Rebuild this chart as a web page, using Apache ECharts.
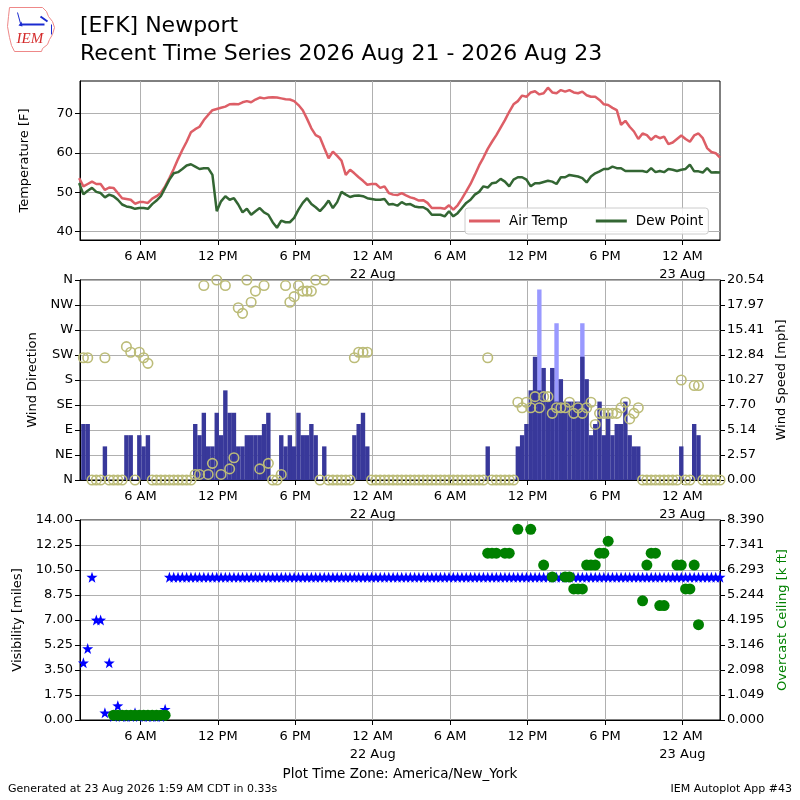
<!DOCTYPE html>
<html>
<head>
<meta charset="utf-8">
<script src="https://cdn.jsdelivr.net/npm/echarts@6/dist/echarts.min.js"></script>
<style>html,body{margin:0;padding:0;background:#fff}#c{width:800px;height:800px}</style>
</head>
<body>
<div id="c"></div>
<script>
// ---- time base: hours since 2026-08-21 00:00 America/New_York, obs every 20 min ----
const FIRST_OB_HOUR = 1.25;     // 1:15 AM Aug 21
const OB_STEP_HOURS = 1 / 3;    // 20 minutes
const X_MIN = 1.32;
const X_MAX = 50.9167;          // 2:55 AM Aug 23
const X_TICKS = [6, 12, 18, 24, 30, 36, 42, 48];

const airTemp = [53.6,51.5,52.1,52.7,52.1,52.1,50.6,51.2,51.1,49.8,48.5,48.3,48.1,47.1,47.5,47.5,47.3,48.4,49.0,49.8,
51.5,53.6,55.9,58.4,60.7,62.8,65.2,66.0,66.6,68.3,69.6,70.8,71.1,71.4,71.7,72.3,72.4,72.3,72.8,73.1,
72.8,73.5,74.0,73.8,74.0,74.1,74.0,73.8,73.6,73.5,73.1,72.1,70.8,68.6,66.2,64.5,63.9,61.2,58.6,60.3,
59.2,58.0,54.4,55.7,54.8,53.8,52.9,51.9,52.1,52.1,51.1,51.5,49.8,49.4,49.3,49.8,49.2,48.7,48.4,47.9,
48.0,47.3,46.0,46.0,46.0,45.8,46.7,45.6,46.7,48.4,50.2,52.1,54.4,56.8,58.8,61.0,62.8,64.5,66.4,68.3,
70.4,72.3,73.1,74.5,74.2,75.3,75.6,74.8,75.1,76.5,75.3,75.1,75.9,75.5,75.9,75.3,75.1,75.5,74.6,74.2,
74.2,73.4,72.3,72.1,71.4,70.8,67.1,68.1,66.6,65.4,63.5,64.9,64.5,63.3,64.3,63.7,64.1,62.2,62.6,63.5,
64.4,63.5,62.8,64.4,64.9,63.7,61.2,60.2,59.9,58.8];

const dewPoint = [52.3,49.5,50.4,51.1,50.1,49.8,48.7,49.4,49.0,48.1,46.9,46.4,46.2,45.8,46.0,46.0,45.8,47.0,47.9,49.0,
51.1,53.2,54.8,55.1,55.9,56.8,57.1,56.5,55.9,56.1,56.1,54.4,45.2,47.7,49.0,48.1,48.5,46.9,44.9,45.8,
44.3,45.2,46.0,44.9,44.3,42.4,41.0,42.8,42.4,42.4,43.5,45.6,47.3,48.5,47.0,46.2,45.2,46.4,47.9,46.0,
47.5,50.1,49.4,48.8,49.1,49.2,49.0,48.5,48.3,48.1,48.1,48.3,46.9,47.0,46.6,47.5,46.9,47.0,46.4,46.2,
46.2,45.6,44.3,44.3,44.3,43.9,45.2,43.9,44.7,46.0,47.3,48.1,49.4,50.1,51.5,51.2,52.3,52.5,53.4,52.7,
51.5,53.2,53.8,53.8,53.2,51.5,52.3,52.3,52.6,52.9,52.7,52.1,53.8,53.8,54.4,54.2,54.0,53.6,52.5,54.0,
54.8,55.3,55.9,55.9,56.5,56.1,56.1,55.4,55.4,55.4,55.4,55.4,55.1,56.1,55.1,55.4,55.1,55.9,55.7,55.4,
55.7,55.9,57.0,55.3,55.3,55.0,56.1,55.0,55.1,55.0];

// wind speed and gust in knots, direction in degrees
const windKnots = [0,5,5,0,0,0,3,0,0,0,0,4,4,0,4,3,4,0,0,0,
0,0,0,0,0,0,0,5,4,6,3,3,6,4,8,6,6,3,3,4,
4,4,4,5,6,0,0,4,3,4,3,6,4,4,5,4,0,3,0,0,
0,0,0,0,4,5,6,3,0,0,0,0,0,0,0,0,0,0,0,0,
0,0,0,0,0,0,0,0,0,0,0,0,0,0,0,3,0,0,0,0,
0,0,3,4,5,8,11,8,10,7,10,7,9,7,7,7,7,11,9,4,
5,7,4,6,4,5,5,7,4,3,3,0,0,0,0,0,0,0,0,0,
3,0,0,5,4,0,0,0,0,0];
const gustObIndex = [107, 111, 117];
const gustKnots = [17, 14, 14];
const windDir = [0,220,220,0,0,0,220,0,0,0,0,240,230,0,230,220,210,0,0,0,
0,0,0,0,0,0,0,10,10,350,10,30,360,10,350,20,40,310,300,360,
320,340,20,350,30,0,0,10,350,320,330,350,340,340,340,360,0,360,0,0,
0,0,0,0,220,230,230,230,0,0,0,0,0,0,0,0,0,0,0,0,
0,0,0,0,0,0,0,0,0,0,0,0,0,0,0,220,0,0,0,0,
0,0,140,130,140,130,150,130,150,150,120,130,130,130,140,120,130,120,130,140,
100,120,120,120,120,120,130,140,110,120,130,0,0,0,0,0,0,0,0,0,
180,0,0,170,170,0,0,0,0,0];
const DIR_LABELS = ['N','NE','E','SE','S','SW','W','NW','N'];
const KT_TO_MPH = 1.150779;

// visibility (miles); ceiling (k ft) where reported
const visibility = [5.0,4.0,5.0,10.0,7.0,7.0,0.5,4.0,0.25,1.0,0.25,0.25,0.25,0.5,0.25,0.25,0.25,0.25,0.25,0.25,0.75];
const VIS_REST = 10.0; // reported for every later ob
const ceilObIndex = [8,9,10,11,12,13,14,15,16,17,18,19,20,
95,96,97,99,100,102,105,108,110,113,114,115,116,117,118,119,120,121,122,123,
131,132,133,134,135,136,139,140,141,142,143,144];
const ceilKft = [0.2,0.2,0.2,0.2,0.2,0.2,0.2,0.2,0.2,0.2,0.2,0.2,0.2,
7.0,7.0,7.0,7.0,7.0,8.0,8.0,6.5,6.0,6.0,6.0,5.5,5.5,5.5,6.5,6.5,6.5,7.0,7.0,7.5,
5.0,6.5,7.0,7.0,4.8,4.8,6.5,6.5,5.5,5.5,6.5,4.0];
const CEIL_AXIS_MAX = 8.3901;
const VIS_AXIS_MAX = 14;

// ---- build series data ----
const obTime = i => FIRST_OB_HOUR + i * OB_STEP_HOURS;
const nObs = airTemp.length;
const tempData = airTemp.map((v, i) => [obTime(i), v]);
const dewData = dewPoint.map((v, i) => [obTime(i), v]);
const speedData = windKnots.map((v, i) => [obTime(i), v * KT_TO_MPH]);
const gustData = gustObIndex.map((ix, k) => [obTime(ix), gustKnots[k] * KT_TO_MPH]);
const dirData = windDir.map((v, i) => [obTime(i), v]);
const visData = [];
for (let i = 0; i < nObs; i++) visData.push([obTime(i), i < visibility.length ? visibility[i] : VIS_REST]);
const ceilData = ceilObIndex.map((ix, k) => [obTime(ix), ceilKft[k]]);
const SPEED_MAX = Math.max(...gustKnots) * KT_TO_MPH * 1.05;

function fmtX(v) {
  const hr = Math.round(v);
  const h = hr % 24;
  if (h === 0) return '12 AM\n' + (21 + hr / 24) + ' Aug';
  if (h === 12) return '12 PM';
  return h < 12 ? h + ' AM' : (h - 12) + ' PM';
}
const FONT = 'DejaVu Sans';
const grids = [
  {left: 80, right: 80, top: 81, height: 159},
  {left: 80, right: 80, top: 280, height: 200},
  {left: 80, right: 80, top: 520, height: 200}
].map(g => Object.assign(g, {show: true, borderColor: '#000', borderWidth: 1, containLabel: false}));

const gridLine = {show: true, lineStyle: {color: '#b0b0b0', width: 1}};
const xAxes = [0, 1, 2].map(k => ({
  type: 'value', gridIndex: k, min: X_MIN, max: X_MAX,
  axisLine: {show: true, onZero: false, lineStyle: {color: '#000'}},
  axisTick: {show: true, customValues: X_TICKS, length: 5, lineStyle: {color: '#000'}},
  axisLabel: {customValues: X_TICKS, formatter: fmtX, color: '#000', fontSize: 13, fontFamily: FONT, margin: 8, lineHeight: 17.6},
  splitLine: gridLine
}));

const yBase = (k, pos) => ({
  type: 'value', gridIndex: k, position: pos,
  axisLine: {show: true, onZero: false, lineStyle: {color: '#000'}},
  axisTick: {show: true, length: 5, lineStyle: {color: '#000'}},
  axisLabel: {color: '#000', fontSize: 13, fontFamily: FONT, margin: 7},
  nameLocation: 'middle', nameRotate: 90,
  nameTextStyle: {color: '#000', fontSize: 13, fontFamily: FONT}
});

const yAxes = [
  Object.assign(yBase(0, 'left'), {min: 37.9, max: 78.2, name: 'Temperature [F]', nameGap: 49,
    axisTick: {show: true, length: 5, customValues: [40, 50, 60, 70], lineStyle: {color: '#000'}},
    axisLabel: {customValues: [40, 50, 60, 70], color: '#000', fontSize: 13, fontFamily: FONT, margin: 7},
    splitLine: gridLine}),
  Object.assign(yBase(1, 'left'), {min: 0, max: 360, interval: 45, name: 'Wind Direction', nameGap: 40,
    axisLabel: {color: '#000', fontSize: 13, fontFamily: FONT, margin: 7, formatter: v => DIR_LABELS[Math.round(v / 45)]},
    splitLine: gridLine}),
  Object.assign(yBase(1, 'right'), {min: 0, max: SPEED_MAX, interval: SPEED_MAX / 8, name: 'Wind Speed [mph]', nameGap: 55,
    axisLabel: {color: '#000', fontSize: 13, fontFamily: FONT, margin: 7, formatter: v => v.toFixed(2)},
    splitLine: {show: false}}),
  Object.assign(yBase(2, 'left'), {min: 0, max: VIS_AXIS_MAX, interval: VIS_AXIS_MAX / 8, name: 'Visibility [miles]', nameGap: 56,
    axisLabel: {color: '#000', fontSize: 13, fontFamily: FONT, margin: 7, formatter: v => v.toFixed(2)},
    splitLine: gridLine}),
  Object.assign(yBase(2, 'right'), {min: 0, max: CEIL_AXIS_MAX, interval: CEIL_AXIS_MAX / 8, name: 'Overcast Ceiling [k ft]', nameGap: 56,
    axisLabel: {color: '#000', fontSize: 13, fontFamily: FONT, margin: 7, formatter: v => v.toFixed(3)},
    nameTextStyle: {color: '#008000', fontSize: 13, fontFamily: FONT},
    splitLine: {show: false}})
];

const STAR = 'path://M0,-10L2.35,-3.24L9.51,-3.09L3.8,1.24L5.88,8.09L0,4L-5.88,8.09L-3.8,1.24L-9.51,-3.09L-2.35,-3.24Z';

const option = {
  animation: false,
  backgroundColor: '#fff',
  textStyle: {fontFamily: FONT},
  grid: grids,
  xAxis: xAxes,
  yAxis: yAxes,
  legend: {
    data: [{name: 'Air Temp', icon: 'rect'}, {name: 'Dew Point', icon: 'rect'}], left: 465, top: 208, orient: 'horizontal',
    itemWidth: 31, itemHeight: 3, itemGap: 28, padding: [6, 5, 6, 4],
    backgroundColor: 'rgba(255,255,255,0.85)', borderColor: '#cccccc', borderWidth: 1, borderRadius: 3,
    textStyle: {color: '#000', fontSize: 13.5, fontFamily: FONT, padding: [0, 0, 0, 4]}
  },
  series: [
    {name: 'Air Temp', type: 'line', xAxisIndex: 0, yAxisIndex: 0, data: tempData, symbol: 'none',
      lineStyle: {color: '#dd5e66', width: 2.5}, itemStyle: {color: '#dd5e66'}},
    {name: 'Dew Point', type: 'line', xAxisIndex: 0, yAxisIndex: 0, data: dewData, symbol: 'none',
      lineStyle: {color: '#336633', width: 2.5}, itemStyle: {color: '#336633'}},
    {name: 'Gust', type: 'bar', xAxisIndex: 1, yAxisIndex: 2, data: gustData, barWidth: 4.4, barGap: '-100%',
      itemStyle: {color: '#9999ff'}, z: 2},
    {name: 'Speed', type: 'bar', xAxisIndex: 1, yAxisIndex: 2, data: speedData, barWidth: 4.4, barGap: '-100%',
      itemStyle: {color: '#38389a'}, z: 3},
    {name: 'Direction', type: 'scatter', xAxisIndex: 1, yAxisIndex: 1, data: dirData, symbol: 'circle', symbolSize: 9.5,
      itemStyle: {color: 'rgba(0,0,0,0)', borderColor: '#bcbc78', borderWidth: 1.6, opacity: 1}, clip: true, z: 4},
    {name: 'Visibility', type: 'scatter', xAxisIndex: 2, yAxisIndex: 3, data: visData, symbol: STAR, symbolSize: 11,
      itemStyle: {color: '#0000ff', opacity: 1}, clip: true, z: 3},
    {name: 'Ceiling', type: 'scatter', xAxisIndex: 2, yAxisIndex: 4, data: ceilData, symbol: 'circle', symbolSize: 11,
      itemStyle: {color: '#008000', opacity: 1}, clip: true, z: 4}
  ],
  graphic: [
    {type: 'text', left: 80, top: 15, style: {text: '[EFK] Newport', font: '22px "DejaVu Sans"', fill: '#000'}},
    {type: 'text', left: 80, top: 43, style: {text: 'Recent Time Series 2026 Aug 21 - 2026 Aug 23', font: '22px "DejaVu Sans"', fill: '#000'}},
    {type: 'text', left: 'center', top: 767, style: {text: 'Plot Time Zone: America/New_York', font: '13.5px "DejaVu Sans"', fill: '#000'}},
    {type: 'text', left: 8, top: 784, style: {text: 'Generated at 23 Aug 2026 1:59 AM CDT in 0.33s', font: '11px "DejaVu Sans"', fill: '#000'}},
    {type: 'text', right: 8, top: 784, style: {text: 'IEM Autoplot App #43', font: '11px "DejaVu Sans"', fill: '#000'}},
    {type: 'group', left: 5, top: 5, children: [
      {type: 'polygon', shape: {points: [[3,3],[36,3],[40,7],[42,12],[46,17],[48,23],[46,30],[43,35],[41,40],[36,44],[35,47],[8,47],[5,41],[3,33],[1,22],[2,12]]},
        style: {fill: 'none', stroke: '#ee8888', lineWidth: 1}},
      {type: 'line', shape: {x1: 14, y1: 20, x2: 38, y2: 20}, style: {stroke: '#1a2ad0', lineWidth: 2}},
      {type: 'line', shape: {x1: 11, y1: 8, x2: 14, y2: 19}, style: {stroke: '#1a2ad0', lineWidth: 1}},
      {type: 'polygon', shape: {points: [[12,21],[15,17],[16,22]]}, style: {fill: '#1a2ad0'}},
      {type: 'line', shape: {x1: 34, y1: 12, x2: 41, y2: 17}, style: {stroke: '#1a2ad0', lineWidth: 2}},
      {type: 'line', shape: {x1: 45, y1: 20, x2: 45, y2: 30}, style: {stroke: '#1a2ad0', lineWidth: 1}},
      {type: 'text', left: 10, top: 27, style: {text: 'IEM', font: 'italic 15px "Liberation Serif"', fill: '#d42a2a'}}
    ]}
  ]
};

const chart = echarts.init(document.getElementById('c'), null, {renderer: 'canvas', width: 800, height: 800});
chart.setOption(option);
</script>
</body>
</html>
